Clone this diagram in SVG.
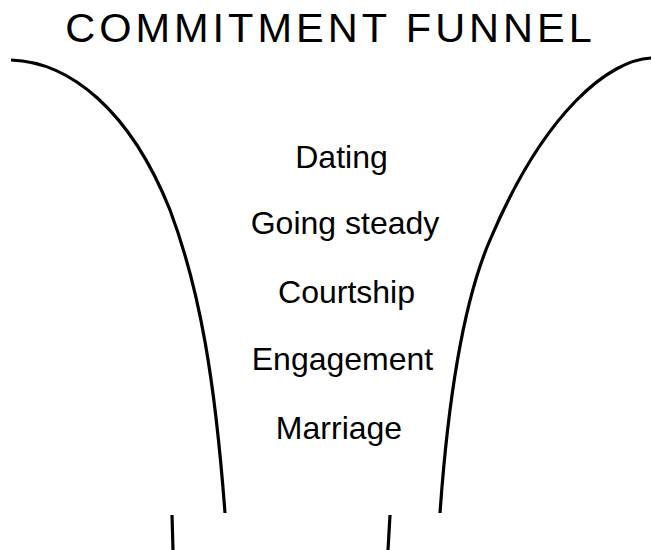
<svg xmlns="http://www.w3.org/2000/svg" width="652" height="550" viewBox="0 0 652 550">
<style>
.t{font-family:"Liberation Sans",Arial,sans-serif;fill:#000;text-anchor:middle}
.title{font-size:41.5px;letter-spacing:4px}
.stage{font-size:32px}
.wall{fill:none;stroke:#000;stroke-width:3.2;stroke-linecap:butt}
</style>
<rect width="652" height="550" fill="#fff"/>
<text class="t title" x="330.5" y="42">COMMITMENT FUNNEL</text>
<g id="funnel">
<path class="wall" d="M11,60 C70,62 130,110 170,210 C200,290 215,380 225,513"/>
<path class="wall" d="M651,58 C610,60 545,110 490,240 C464,300 448,400 440,513"/>
<path class="wall" d="M172,515 L173,550"/>
<path class="wall" d="M390,515 L388,550"/>
</g>
<g id="stages">
<text class="t stage" x="341.5" y="168">Dating</text>
<text class="t stage" x="345" y="234">Going steady</text>
<text class="t stage" x="346.5" y="303">Courtship</text>
<text class="t stage" x="342.5" y="370">Engagement</text>
<text class="t stage" x="339" y="439">Marriage</text>
</g>
</svg>
